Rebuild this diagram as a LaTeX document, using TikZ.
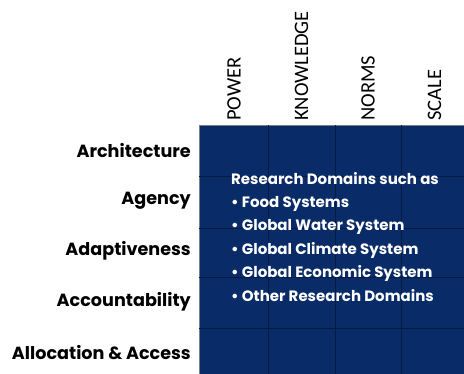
\documentclass[tikz,border=0pt]{standalone}
\usepackage{fontspec}
\setmainfont{Poppins}
\newfontfamily\headfont{Carlito}
\usetikzlibrary{positioning}
\definecolor{domainblue}{RGB}{9,44,104}
\definecolor{gridblue}{RGB}{4,27,68}
\definecolor{edgegray}{RGB}{120,125,140}

\begin{document}
\begin{tikzpicture}[x=1pt,y=-1pt,
            rowlabel/.style={anchor=east,inner sep=0pt,font=\bfseries\fontsize{17.6}{17.6}\selectfont},
            collabel/.style={rotate=90,anchor=west,inner sep=0pt,font=\headfont\fontsize{20.5}{20.5}\selectfont},
            domaintext/.style={anchor=base west,inner sep=0pt,text=white,font=\bfseries\fontsize{15}{15}\selectfont},
            gridline/.style={color=gridblue,line width=1pt}]
            \useasboundingbox (0,0) rectangle (464,373);
            % matrix block
            \fill[domainblue] (199,125) rectangle (470,380);
            \draw[edgegray, line width=0.6pt] (199,380) -- (199,125) -- (470,125);
            \draw[gridline] (268,125) -- (268,380);
            \draw[gridline] (335,125) -- (335,380);
            \draw[gridline] (401,125) -- (401,380);
            \draw[gridline] (199,176) -- (470,176);
            \draw[gridline] (199,228) -- (470,228);
            \draw[gridline] (199,277) -- (470,277);
            \draw[gridline] (199,328) -- (470,328);
            % column headers
            \node[collabel] (power) at (234,121) {POWER};
            \node[collabel] (knowledge) at (301.5,121) {KNOWLEDGE};
            \node[collabel] (norms) at (368,121) {NORMS};
            \node[collabel] (scale) at (434.5,121) {SCALE};
            % row labels
            \node[rowlabel] (architecture) at (191,151) {Architecture};
            \node[rowlabel] (agency) at (191,201) {Agency};
            \node[rowlabel] (adaptiveness) at (191,251) {Adaptiveness};
            \node[rowlabel] (accountability) at (191,302) {Accountability};
            \node[rowlabel] (allocation) at (191,353) {Allocation \& Access};
            % research domains
            \node[domaintext] (domains) at (231,184) {Research Domains such as};
            \node[domaintext] (food) at (231,207.4) {• Food Systems};
            \node[domaintext] (water) at (231,230.8) {• Global Water System};
            \node[domaintext] (climate) at (231,254.2) {• Global Climate System};
            \node[domaintext] (economic) at (231,277.6) {• Global Economic System};
            \node[domaintext] (other) at (231,301) {• Other Research Domains};
        \end{tikzpicture}
\end{document}
